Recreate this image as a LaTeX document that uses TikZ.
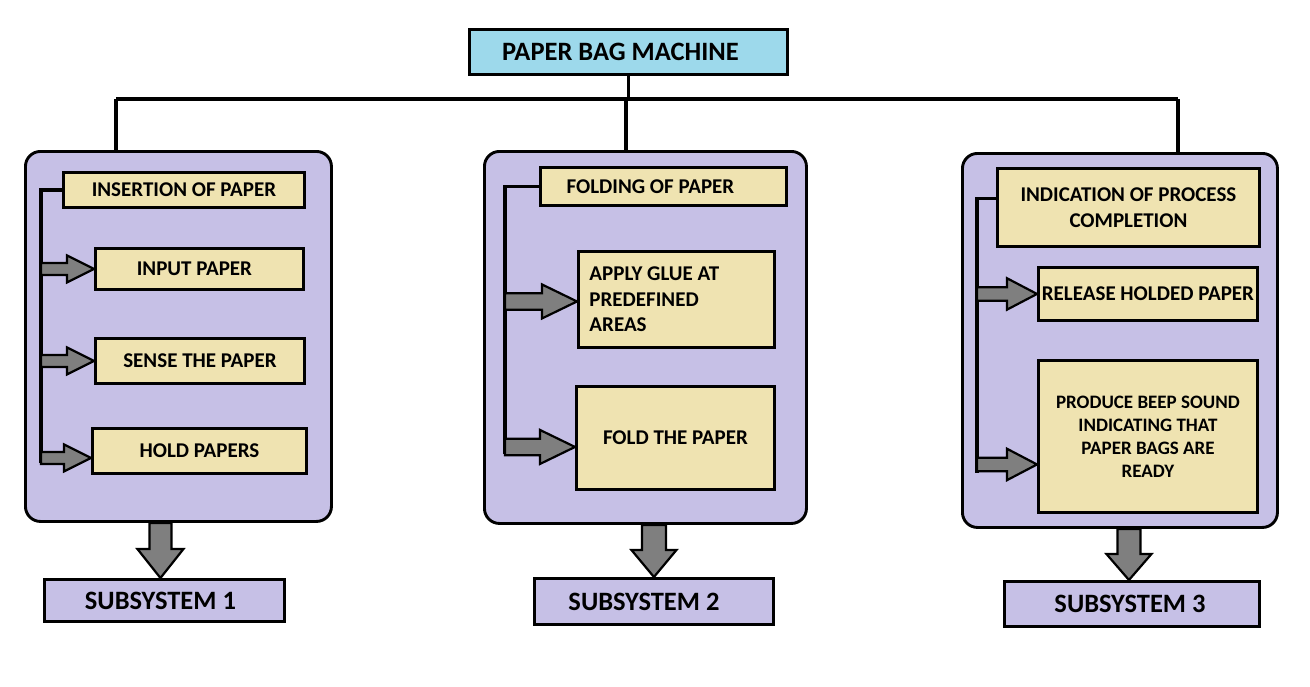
\documentclass[tikz,border=0pt]{standalone}
\usepackage{fontspec}
\setmainfont{Carlito}
\usetikzlibrary{calc,backgrounds}
\definecolor{lav}{HTML}{C6C0E6}
\definecolor{tanb}{HTML}{EFE3B1}
\definecolor{skyb}{HTML}{9DD9EB}
\definecolor{arrg}{HTML}{7F7F7F}
\tikzset{
  x=1pt, y=-1pt,
  lw/.style={line width=2.9pt},
  panel/.style={draw, lw, fill=lav, rounded corners=15pt, anchor=north west, inner sep=0pt},
  tbox/.style={draw, lw, fill=tanb, anchor=north west, inner sep=0pt, align=center,
    font=\bfseries\fontsize{21}{26}\selectfont},
  titlebox/.style={draw, lw, fill=skyb, anchor=north west, inner sep=0pt,
    font=\bfseries\fontsize{26.5}{30}\selectfont},
  subbox/.style={draw, lw, fill=lav, anchor=north west, inner sep=0pt,
    font=\bfseries\fontsize{26.5}{30}\selectfont},
  conn/.style={line width=3.1pt},
  blkarrow/.style={draw, line width=2.2pt, fill=arrg, line join=miter},
}
% horizontal block arrow: #1 tail (x), #2 tip, #3 shaft half, #4 head half, #5 head length
\newcommand\harr[5]{%
  \draw[blkarrow] let \p1=(#2), \p2=(#1) in
    (\x2,\y1+#3) -- (\x1-#5,\y1+#3) -- (\x1-#5,\y1+#4) -- (\x1,\y1)
    -- (\x1-#5,\y1-#4) -- (\x1-#5,\y1-#3) -- (\x2,\y1-#3) -- cycle;}
% vertical block arrow: #1 tail (y), #2 tip, #3 shaft half, #4 head half, #5 head length
\newcommand\varr[5]{%
  \draw[blkarrow] let \p1=(#2), \p2=(#1) in
    (\x1-#3,\y2) -- (\x1-#3,\y1+#5) -- (\x1-#4,\y1+#5) -- (\x1,\y1)
    -- (\x1+#4,\y1+#5) -- (\x1+#3,\y1+#5) -- (\x1+#3,\y2) -- cycle;}
\begin{document}
\begin{tikzpicture}
\useasboundingbox (0,0) rectangle (1310,686);

% title
\node[titlebox, minimum width=318, minimum height=45] (title) at (468,28) {PAPER BAG MACHINE\hspace*{16pt}};

% panels
\node[panel, minimum width=306, minimum height=370] (p1) at (24,150) {};
\node[panel, minimum width=322, minimum height=372] (p2) at (483,150) {};
\node[panel, minimum width=315, minimum height=374] (p3) at (961,152) {};

% bus
\coordinate (bus) at (626,99);
\coordinate (busL) at (116,99);
\coordinate (busR) at (1178,99);
\draw[conn] (title.south) -- (title.south |- bus);
\draw[conn] (busL) -- (busR);
\draw[conn] (busL) -- (busL |- p1.north);
\draw[conn] (bus) -- (bus |- p2.north);
\draw[conn] (busR) -- (busR |- p3.north);

% subsystem 1
\node[tbox, minimum width=241, minimum height=35] (h1) at (62,171) {INSERTION OF PAPER};
\node[tbox, minimum width=208, minimum height=41] (a1) at (94,247) {INPUT PAPER\hspace*{10pt}};
\node[tbox, minimum width=209, minimum height=45] (a2) at (94,337) {SENSE THE PAPER};
\node[tbox, minimum width=214, minimum height=45] (a3) at (91,427) {HOLD PAPERS};
\coordinate (k1) at (41,463);
\draw[conn] (h1.west) -| (k1);
\harr{k1}{a1.west}{6pt}{13.5pt}{27pt}
\harr{k1}{a2.west}{6pt}{13.5pt}{27pt}
\harr{k1}{$(a3.west)+(0,7)$}{6pt}{13.5pt}{27pt}

% subsystem 2
\node[tbox, minimum width=246, minimum height=38] (h2) at (539,166) {FOLDING OF PAPER\hspace*{26pt}};
\node[tbox, minimum width=196, minimum height=96, align=flush left, text width=174,
  font=\bfseries\fontsize{21}{25.5}\selectfont] (b1) at (577,250) {APPLY GLUE AT\\PREDEFINED\\AREAS};
\node[tbox, minimum width=198, minimum height=103] (b2) at (575,385) {FOLD THE PAPER};
\coordinate (k2) at (505,454);
\draw[conn] (h2.west) -| (k2);
\harr{k2}{$(b1.west)+(0,2)$}{8.3pt}{17pt}{35pt}
\harr{k2}{$(b2.west)+(0,9)$}{8.3pt}{17pt}{35pt}

% subsystem 3
\node[tbox, minimum width=262, minimum height=78] (h3) at (996,167) {INDICATION OF PROCESS\\COMPLETION};
\node[tbox, minimum width=219, minimum height=53] (c1) at (1037,266) {RELEASE HOLDED PAPER};
\node[tbox, minimum width=219, minimum height=152,
  font=\bfseries\fontsize{19}{23}\selectfont] (c2) at (1037,359) {PRODUCE BEEP SOUND\\INDICATING THAT\\PAPER BAGS ARE\\READY};
\coordinate (k3) at (977,473);
\draw[conn] ($(h3.west)+(0,-9)$) -| (k3);
\harr{k3}{c1.west}{6.7pt}{15.7pt}{30pt}
\harr{k3}{$(c2.west)+(0,28)$}{6.7pt}{15.7pt}{30pt}

% subsystem labels
\node[subbox, minimum width=240, minimum height=42] (s1) at (43,578) {SUBSYSTEM 1\hspace*{8pt}};
\node[subbox, minimum width=239, minimum height=46] (s2) at (533,577) {SUBSYSTEM 2\hspace*{20pt}};
\node[subbox, minimum width=255, minimum height=45] (s3) at (1003,580) {SUBSYSTEM 3\hspace*{4pt}};

\begin{pgfonlayer}{background}
\fill[white] (0,0) rectangle (1310,686);
\varr{p1.south}{$(s1.north)+(-4,0)$}{11pt}{23pt}{29pt}
\varr{p2.south}{s2.north}{12pt}{22.5pt}{27pt}
\varr{p3.south}{$(s3.north)+(-3,0)$}{11.5pt}{22.5pt}{26pt}
\end{pgfonlayer}
\end{tikzpicture}
\end{document}
